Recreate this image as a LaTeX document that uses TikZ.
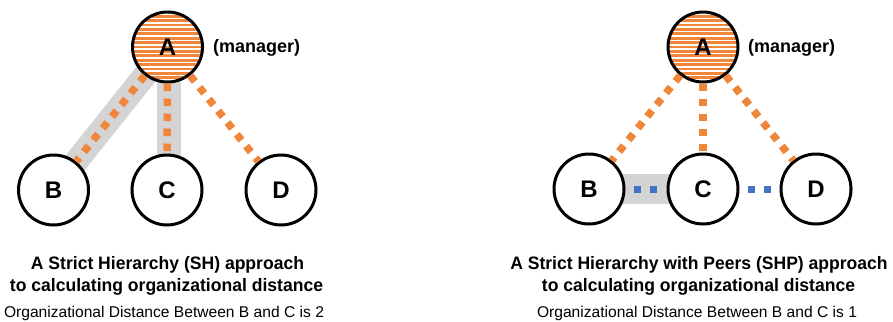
\documentclass[tikz,border=0pt]{standalone}
\usepackage{fontspec}
\setmainfont{Liberation Sans}
\newfontfamily\titlefont[FakeStretch=0.975]{Liberation Sans}
\definecolor{orgorange}{HTML}{EF863A}
\definecolor{bandgray}{HTML}{D4D4D4}
\definecolor{peerblue}{HTML}{4472C4}
\tikzset{
  person/.style={circle, draw=black, line width=3bp, fill=white, minimum size=70bp, inner sep=0pt,
    font=\fontsize{24bp}{26bp}\selectfont\bfseries},
  manager/.style={person, fill=orgorange,
    path picture={\foreach \k in {-9,...,9}{
      \draw[white, line width=1.7bp] ([yshift=\k*4.4bp+2.2bp]path picture bounding box.west) -- ([yshift=\k*4.4bp+2.2bp]path picture bounding box.east);}}},
  band/.style={bandgray, line width=24bp},
  peerband/.style={bandgray, line width=30bp},
  boss/.style={orgorange, line width=7.5bp, dash pattern=on 7.5bp off 7.5bp},
  peer/.style={peerblue, line width=7bp, dash pattern=on 7bp off 9bp, shorten <=8.5bp, shorten >=8.5bp},
  rolelabel/.style={anchor=base west, inner sep=0pt, font=\fontsize{18bp}{20bp}\selectfont\bfseries},
  titleline/.style={anchor=base, inner sep=0pt, font=\titlefont\fontsize{18bp}{20bp}\selectfont\bfseries},
  noteline/.style={anchor=base, inner sep=0pt, font=\fontsize{15.6bp}{18bp}\selectfont}
}
\begin{document}
\begin{tikzpicture}[x=1bp,y=-1bp]
\useasboundingbox (0,0) rectangle (893,321);
% ---------- left: strict hierarchy ----------
\coordinate (lAc) at (167.5,47);
\coordinate (lBc) at (53.5,190);
\coordinate (lCc) at (167,190);
\draw[band] (lAc) -- (lBc);
\draw[band] (169,47) -- (169,190);
\node[manager] (lA) at (lAc) {A};
\node[person] (lB) at (lBc) {B};
\node[person] (lC) at (lCc) {C};
\node[person] (lD) at (281,190) {D};
\node[rolelabel] (lM) at (213,52) {(manager)};
\draw[boss] (lA) -- (lB);
\draw[boss] (lA) -- (lC);
\draw[boss] (lA) -- (lD);
\node[titleline] (lT1) at (167.5,269) {A Strict Hierarchy (SH) approach};
\node[titleline] (lT2) at (166.5,291) {to calculating organizational distance};
\node[noteline] (lT3) at (164,317) {Organizational Distance Between B and C is 2};
% ---------- right: strict hierarchy with peers ----------
\coordinate (rBc) at (589,189);
\coordinate (rCc) at (703,189);
\draw[peerband] (rBc) -- (rCc);
\node[manager] (rA) at (703,47) {A};
\node[person] (rB) at (rBc) {B};
\node[person] (rC) at (rCc) {C};
\node[person] (rD) at (816,189) {D};
\node[rolelabel] (rM) at (748,52) {(manager)};
\draw[boss] (rA) -- (rB);
\draw[boss] (rA) -- (rC);
\draw[boss] (rA) -- (rD);
\draw[peer] (rB) -- (rC);
\draw[peer] (rC) -- (rD);
\node[titleline] (rT1) at (699,269) {A Strict Hierarchy with Peers (SHP) approach};
\node[titleline] (rT2) at (698.5,291) {to calculating organizational distance};
\node[noteline] (rT3) at (697,317) {Organizational Distance Between B and C is 1};
\end{tikzpicture}
\end{document}
